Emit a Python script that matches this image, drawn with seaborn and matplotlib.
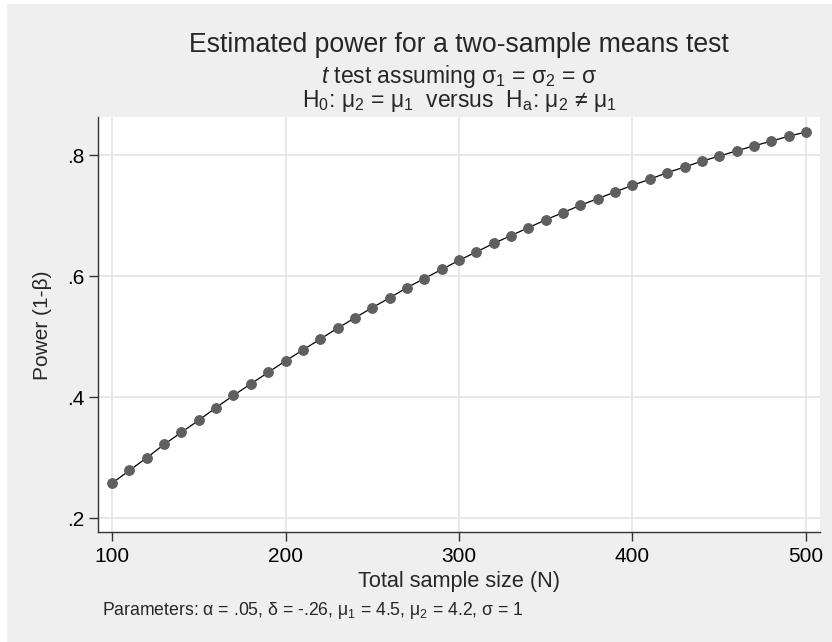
import matplotlib
matplotlib.use('Agg')
import matplotlib.pyplot as plt
import matplotlib.patches as patches
import seaborn as sns
import pandas as pd

# Estimated power by total sample size
sample_size = [100, 110, 120, 130, 140, 150, 160, 170, 180, 190,
               200, 210, 220, 230, 240, 250, 260, 270, 280, 290,
               300, 310, 320, 330, 340, 350, 360, 370, 380, 390,
               400, 410, 420, 430, 440, 450, 460, 470, 480, 490, 500]
power = [0.258, 0.279, 0.300, 0.322, 0.342, 0.362, 0.383, 0.403, 0.422, 0.441,
         0.460, 0.478, 0.496, 0.514, 0.531, 0.548, 0.564, 0.581, 0.596, 0.611,
         0.626, 0.640, 0.654, 0.667, 0.680, 0.693, 0.705, 0.717, 0.728, 0.739,
         0.750, 0.760, 0.771, 0.780, 0.790, 0.798, 0.807, 0.815, 0.823, 0.831, 0.838]

x_ticks = [100, 200, 300, 400, 500]
y_ticks = [0.2, 0.4, 0.6, 0.8]
y_tick_labels = ['.2', '.4', '.6', '.8']

df = pd.DataFrame({'N': sample_size, 'power': power})

sns.set_style('white')
plt.rcParams['font.family'] = ['Liberation Sans', 'DejaVu Sans']
plt.rcParams['mathtext.fontset'] = 'custom'
plt.rcParams['mathtext.rm'] = 'Liberation Sans'
plt.rcParams['mathtext.it'] = 'Liberation Sans:italic'

bg = '#efefef'
fig = plt.figure(figsize=(8.32, 6.42), dpi=100)
fig.patch.set_facecolor('white')
# grey graph region (white strip at top and left as in the reference)
fig.patches.append(patches.Rectangle((7/832, 0), 1, 1 - 4/642, transform=fig.transFigure,
                                     facecolor=bg, edgecolor='none', zorder=-10))

ax = fig.add_axes([98/832, 110/642, 722/832, 415/642])
ax.set_facecolor('white')

sns.lineplot(data=df, x='N', y='power', ax=ax, color='black', linewidth=0.9,
             marker='o', markersize=7, markerfacecolor='#5f5f5f',
             markeredgecolor='#5f5f5f', zorder=3)

ax.set_xlim(91.9, 508.1)
ax.set_ylim(0.1774, 0.8628)
ax.set_xticks(x_ticks)
ax.set_xticklabels([str(t) for t in x_ticks])
ax.set_yticks(y_ticks)
ax.set_yticklabels(y_tick_labels)
ax.grid(True, color='#e6e6e6', linewidth=1.3)
ax.set_axisbelow(True)

for s in ['top', 'right']:
    ax.spines[s].set_visible(False)
for s in ['left', 'bottom']:
    ax.spines[s].set_color('#333333')
    ax.spines[s].set_linewidth(1.0)
ax.tick_params(axis='both', direction='out', length=6.5, width=1.0, color='#333333',
               labelsize=15, labelcolor='black', left=True, bottom=True)
ax.tick_params(axis='x', pad=4)
ax.tick_params(axis='y', pad=3.5)
ax.set_xlabel('')
ax.set_ylabel('')

fig.text(459/832, 1 - 586.7/642, 'Total sample size (N)', ha='center', va='baseline', fontsize=15.6)
fig.text(43/832, 1 - 325/642, 'Power (1-β)', ha='center', va='center', rotation=90, fontsize=15)

fig.text(459/832, 1 - 51.7/642, 'Estimated power for a two-sample means test',
         ha='center', va='baseline', fontsize=19.2)
fig.text(459/832, 1 - 83.3/642, r'$\mathit{t}$ test assuming σ$_1$ = σ$_2$ = σ',
         ha='center', va='baseline', fontsize=16.5)
fig.text(459/832, 1 - 107.3/642, r'H$_0$: μ$_2$ = μ$_1$  versus  H$_\mathrm{a}$: μ$_2$ ≠ μ$_1$',
         ha='center', va='baseline', fontsize=16.5)
fig.text(102/832, 1 - 615/642, r'Parameters: α = .05, δ = -.26, μ$_1$ = 4.5, μ$_2$ = 4.2, σ = 1',
         ha='left', va='baseline', fontsize=12.7)

fig.savefig('out.png', dpi=100, facecolor=fig.get_facecolor())
